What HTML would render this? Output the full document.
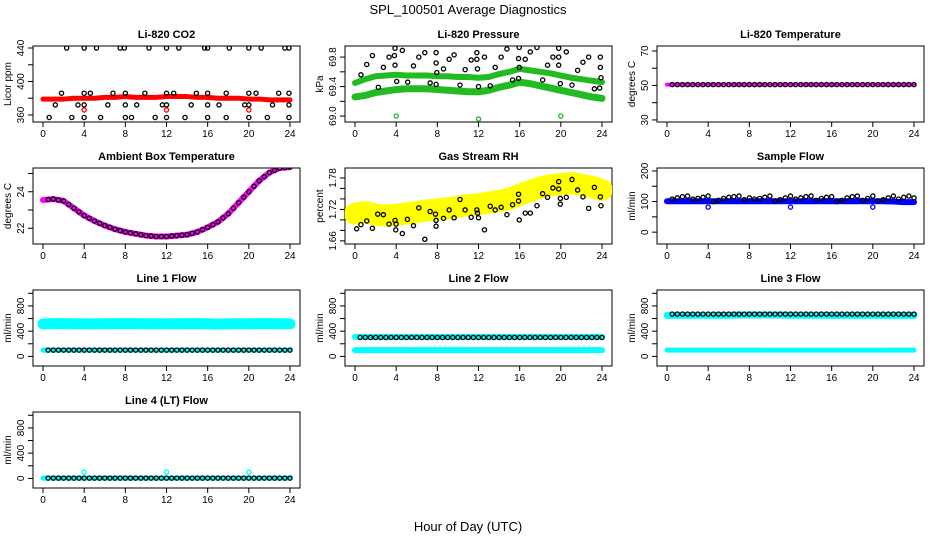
<!DOCTYPE html>
<html><head><meta charset="utf-8">
<style>
html,body{margin:0;padding:0;background:#fff;}
svg{display:block;font-family:"Liberation Sans",sans-serif;}
.t{font-size:11px;font-weight:bold;text-anchor:middle;}
.tk{font-size:10px;text-anchor:middle;}
</style></head><body>
<svg id="chart" width="936" height="540" viewBox="0 0 936 540" xmlns="http://www.w3.org/2000/svg">
<text x="468" y="14" font-size="13" text-anchor="middle">SPL_100501  Average Diagnostics</text>
<text x="468" y="531" font-size="13" text-anchor="middle">Hour of Day (UTC)</text>
<g id="panels"></g>
</svg>
<script>
const hourTicks=[0,4,8,12,16,20,24];
const hours=[0,1,2,3,4,5,6,7,8,9,10,11,12,13,14,15,16,17,18,19,20,21,22,23,24];
const halfHours=[0.5,1,1.5,2,2.5,3,3.5,4,4.5,5,5.5,6,6.5,7,7.5,8,8.5,9,9.5,10,10.5,11,11.5,12,12.5,13,13.5,14,14.5,15,15.5,16,16.5,17,17.5,18,18.5,19,19.5,20,20.5,21,21.5,22,22.5,23,23.5,24];
// CO2
const co2Red=[379,379,379,380,380,380,381,381,382,381,381,381,382,382,382,381,381,380,380,380,379,379,378,378,378];
const co2OutHours=[4,12,20];
const co2Out=[366,366,366];
const co2BlackHours=[2.3,4,5.2,7.5,7.9,10.3,12,13.2,15.7,16,18.1,20,21.2,23.5,23.9,1.8,4,4.6,6.8,8,9.9,12,12.7,14.9,16,17.8,20,20.7,22.9,23.9,1.2,3.4,4,6.3,8,9.1,11.6,12,14.4,16,17.1,19.6,20,22.3,23.9,0.6,2.8,4,5.6,8,8.6,10.9,12,13.8,16,17.8,20,21.8,23.9];
const co2Black=[440,440,440,440,440,440,440,440,440,440,440,440,440,440,440,386,386,386,386,386,386,386,386,386,386,386,386,386,386,386,372,372,372,372,372,372,372,372,372,372,372,372,372,372,372,357,357,357,357,357,357,357,357,357,357,357,357,357,357];
// Pressure
const presUpper=[69.45,69.5,69.54,69.55,69.56,69.55,69.55,69.55,69.54,69.54,69.53,69.53,69.52,69.53,69.57,69.6,69.64,69.62,69.6,69.58,69.55,69.52,69.5,69.48,69.46];
const presLower=[69.26,69.28,69.32,69.34,69.36,69.37,69.37,69.37,69.36,69.35,69.34,69.33,69.33,69.35,69.39,69.42,69.46,69.44,69.41,69.38,69.35,69.32,69.29,69.26,69.24];
const presOutHours=[4,12,20];
const presOut=[69.0,68.96,69.0];
const presBlackHours=[0.58,1.14,1.69,2.27,2.76,3.31,3.83,3.89,3.89,4.05,4.6,5.12,5.68,6.2,6.78,7.3,7.88,7.88,7.95,7.88,8.6,9.15,9.63,10.2,10.7,11.29,11.84,11.84,11.9,12.0,12.58,13.14,13.62,14.2,14.76,15.31,15.89,15.89,15.96,15.96,16.54,17.03,17.68,18.23,18.71,19.23,19.79,19.79,19.79,19.95,20.53,21.08,21.63,22.15,22.7,23.26,23.84,23.84,23.9,23.77];
const presBlack=[69.56,69.7,69.82,69.39,69.66,69.8,69.82,69.92,69.69,69.47,69.89,69.46,69.68,69.8,69.86,69.45,69.86,69.72,69.59,69.43,69.64,69.77,69.83,69.42,69.63,69.76,69.77,69.86,69.64,69.4,69.8,69.41,69.66,69.8,69.91,69.49,69.51,69.78,69.66,69.93,69.77,69.87,69.93,69.49,69.69,69.8,69.8,69.92,69.69,69.44,69.87,69.42,69.62,69.73,69.8,69.37,69.8,69.66,69.52,69.38];
// Li-820 temperature
const tempLine=[50.5,50.5,50.5,50.5,50.5,50.5,50.5,50.5,50.5,50.5,50.5,50.5,50.5,50.5,50.5,50.5,50.5,50.5,50.5,50.5,50.5,50.5,50.5,50.5,50.5];
const tempBlack=[50.5,50.5,50.5,50.5,50.5,50.5,50.5,50.5,50.5,50.5,50.5,50.5,50.5,50.5,50.5,50.5,50.5,50.5,50.5,50.5,50.5,50.5,50.5,50.5,50.5,50.5,50.5,50.5,50.5,50.5,50.5,50.5,50.5,50.5,50.5,50.5,50.5,50.5,50.5,50.5,50.5,50.5,50.5,50.5,50.5,50.5,50.5,50.5];
// Ambient
const ambient=[23.55,23.6,23.5,23.1,22.7,22.4,22.15,21.95,21.8,21.7,21.6,21.55,21.55,21.6,21.65,21.8,22.05,22.35,22.8,23.4,24.0,24.6,25.05,25.3,25.35];
// RH
const rhBand=[1.712,1.715,1.71,1.708,1.71,1.712,1.715,1.718,1.72,1.722,1.725,1.728,1.73,1.733,1.736,1.74,1.748,1.755,1.762,1.766,1.768,1.77,1.767,1.763,1.757];
const rhBlackHours=[0.16,0.58,1.14,1.69,2.21,2.76,3.31,3.89,3.96,3.99,4.6,5.09,5.68,6.2,6.78,7.3,7.82,7.88,7.88,8.6,9.15,9.63,10.2,10.7,11.29,11.84,11.9,12.0,12.58,13.14,13.62,14.2,14.76,15.31,15.89,15.89,15.96,16.54,17.03,17.68,18.23,18.71,19.23,19.79,19.79,19.95,19.95,20.53,21.08,21.63,22.15,22.7,23.26,23.84,23.9];
const rhBlack=[1.683,1.691,1.698,1.684,1.711,1.71,1.692,1.699,1.681,1.692,1.674,1.701,1.689,1.723,1.663,1.716,1.711,1.699,1.688,1.703,1.719,1.704,1.739,1.719,1.705,1.719,1.713,1.704,1.681,1.726,1.719,1.724,1.71,1.729,1.749,1.736,1.7,1.713,1.713,1.727,1.75,1.743,1.761,1.773,1.759,1.741,1.73,1.743,1.777,1.757,1.744,1.722,1.762,1.744,1.727];
// Sample flow
const sampleBand=[101,101,101,101,101,101,101,101,101,101,101,101,101,101,101,101,101,101,101,101,101,101,100,98,98];
const sampleOutHours=[4,12,20];
const sampleOut=[82,82,82];
const sampleBlack=[108,112,116,118,108,110,114,118,100,104,110,114,116,118,106,112,108,110,114,118,102,106,112,118,108,112,116,118,104,110,114,116,100,104,112,116,118,104,110,118,102,106,112,118,108,114,118,112];
// Line flows
const line1Band=[515,520,520,518,515,515,518,520,520,520,518,518,515,518,520,520,518,512,515,518,518,520,520,518,515];
const line1Low=[100,100,100,100,100,100,100,100,100,100,100,100,100,100,100,100,100,100,100,100,100,100,100,100,100];
const line1Black=[100,100,100,100,100,100,100,100,100,100,100,100,100,100,100,100,100,100,100,100,100,100,100,100,100,100,100,100,100,100,100,100,100,100,100,100,100,100,100,100,100,100,100,100,100,100,100,100];
const line2Band=[310,310,310,310,310,310,310,310,310,310,310,310,310,310,310,310,310,310,310,310,310,310,310,310,310];
const line2Low=[100,100,100,100,100,100,100,100,100,100,100,100,100,100,100,100,100,100,100,100,100,100,100,100,100];
const line2Black=[300,300,300,300,300,300,300,300,300,300,300,300,300,300,300,300,300,300,300,300,300,300,300,300,300,300,300,300,300,300,300,300,300,300,300,300,300,300,300,300,300,300,300,300,300,300,300,300];
const line3Band=[650,650,650,650,650,650,652,655,655,655,655,655,652,652,652,652,650,650,650,650,650,650,650,650,650];
const line3Low=[100,100,100,100,100,100,100,100,100,100,100,100,100,100,100,100,100,100,100,100,100,100,100,100,100];
const line3Black=[670,670,670,670,670,670,670,670,670,670,670,670,670,670,670,670,670,670,670,670,670,670,670,670,670,670,670,670,670,670,670,670,670,670,670,670,670,670,670,670,670,670,670,670,670,670,670,670];
const line4Band=[5,5,5,5,5,5,5,5,5,5,5,5,5,5,5,5,5,5,5,5,5,5,5,5,5];
const line4OutHours=[4,12,20];
const line4Out=[100,100,100];
const line4Black=[5,5,5,5,5,5,5,5,5,5,5,5,5,5,5,5,5,5,5,5,5,5,5,5,5,5,5,5,5,5,5,5,5,5,5,5,5,5,5,5,5,5,5,5,5,5,5,5];

const NS='http://www.w3.org/2000/svg';
const root=document.getElementById('panels');
function mk(tag,attrs,parent){const e=document.createElementNS(NS,tag);for(const k in attrs)e.setAttribute(k,attrs[k]);parent.appendChild(e);return e;}

function makePanel(col,row,ymin,ymax,ticks,labels,title,ylab,name){
  const left=33+312*col,right=300+312*col,top=46+122*row,bot=122+122*row;
  const g=mk('g',{},root);
  
  
  const xs=h=>43+312*col+h*(247/24);
  const ys=v=>top+(ymax-v)/(ymax-ymin)*(bot-top);
  const tt=mk('text',{x:(left+right)/2,y:top-8,class:'t'},g);tt.textContent=title;
  
  
  const box=mk('rect',{x:left,y:top,width:right-left,height:bot-top,fill:'none',stroke:'#000','stroke-width':1},g);
  
  
  const xa=mk('g',{},g);
  
  
  mk('line',{x1:xs(0),x2:xs(24),y1:bot,y2:bot,stroke:'#000'},xa);
  hourTicks.forEach(h=>{mk('line',{x1:xs(h),x2:xs(h),y1:bot,y2:bot+5,stroke:'#000'},xa);
    const t=mk('text',{x:xs(h),y:bot+15,class:'tk'},xa);t.textContent=h;});
  const ya=mk('g',{},g);
  
  
  mk('line',{x1:left,x2:left,y1:ys(ticks[0]),y2:ys(ticks[ticks.length-1]),stroke:'#000'},ya);
  ticks.forEach(v=>mk('line',{x1:left,x2:left-5,y1:ys(v),y2:ys(v),stroke:'#000'},ya));
  labels.forEach(v=>{const tx=left-9,ty=ys(v);const t=mk('text',{x:tx,y:ty,class:'tk',transform:`rotate(-90 ${tx} ${ty})`},ya);t.textContent=v;});
  const yl=mk('text',{x:left-22,y:(top+bot)/2,'font-size':10,'text-anchor':'middle',transform:`rotate(-90 ${left-22} ${(top+bot)/2})`},g);
  yl.textContent=ylab;
  
  
  const clipId='c'+col+row;
  const cp=mk('clipPath',{id:clipId},g);mk('rect',{x:left,y:top,width:right-left,height:bot-top},cp);
  const d=mk('g',{'clip-path':`url(#${clipId})`},g);
  
  
  return {g:d,xs,ys};
}
function band(p,xArr,yArr,color,w,name){
  const pts=xArr.map((h,i)=>p.xs(h)+','+p.ys(yArr[i])).join(' ');
  const pl=mk('polyline',{points:pts,fill:'none',stroke:color,'stroke-width':w,'stroke-linejoin':'round','stroke-linecap':'round'},p.g);
  
  
}
function pts(p,xArr,yArr,color,name){
  xArr.forEach((h,i)=>{const c=mk('circle',{cx:p.xs(h),cy:p.ys(yArr[i]),r:2.1,fill:'none',stroke:color,'stroke-width':1.3},p.g);
    
    });
}

let p;
p=makePanel(0,0,351.6,442.4,[360,380,400,420,440],[360,400,440],'Li-820 CO2','Licor ppm','co2');
band(p,hours,co2Red,'#ff0000',5,'co2-mean-band');
pts(p,co2OutHours,co2Out,'#ff0000','co2-outlier-point');
pts(p,co2BlackHours,co2Black,'#000','co2-average-point');

p=makePanel(1,0,68.92,69.95,[69.0,69.2,69.4,69.6,69.8],['69.0','69.4','69.8'],'Li-820 Pressure','kPa','pressure');
band(p,hours,presUpper,'#22bb22',6,'pressure-upper-band');
band(p,hours,presLower,'#22bb22',7,'pressure-lower-band');
pts(p,presOutHours,presOut,'#22bb22','pressure-outlier-point');
pts(p,presBlackHours,presBlack,'#000','pressure-average-point');

p=makePanel(2,0,28.8,72.9,[30,40,50,60,70],[30,50,70],'Li-820 Temperature','degrees C','li820-temp');
band(p,hours,tempLine,'#ff00ff',4,'li820-temp-band');
pts(p,halfHours,tempBlack,'#000','li820-temp-average-point');

p=makePanel(0,1,21.14,25.3,[22,23,24,25],[22,24],'Ambient Box Temperature','degrees C','ambient');
band(p,hours,ambient,'#ff00ff',6,'ambient-band');
pts(p,hours.slice(1),ambient.slice(1),'#000','ambient-average-point');
pts(p,halfHours.filter(h=>h%1),halfHours.filter(h=>h%1).map(h=>(ambient[Math.floor(h)]+ambient[Math.ceil(h)])/2),'#000','ambient-average-point');

p=makePanel(1,1,1.654,1.799,[1.66,1.68,1.70,1.72,1.74,1.76,1.78],['1.66','1.72','1.78'],'Gas Stream RH','percent','rh');
band(p,hours,rhBand,'#ffff00',22,'rh-band');
pts(p,rhBlackHours,rhBlack,'#000','rh-average-point');

p=makePanel(2,1,-38.7,209.7,[0,50,100,150,200],[0,100,200],'Sample Flow','ml/min','sample-flow');
band(p,hours,sampleBand,'#0000ff',6,'sample-flow-band');
pts(p,sampleOutHours,sampleOut,'#0000ff','sample-flow-outlier-point');
pts(p,halfHours,sampleBlack,'#000','sample-flow-average-point');

const flowTicks=[0,200,400,600,800,1000],flowLabels=[0,400,800];
p=makePanel(0,2,-152,1052,flowTicks,flowLabels,'Line 1 Flow','ml/min','line1-flow');
band(p,hours,line1Band,'#00ffff',11,'line1-flow-band');
band(p,hours,line1Low,'#00ffff',5,'line1-flow-low-band');
pts(p,halfHours,line1Black,'#000','line1-flow-average-point');

p=makePanel(1,2,-152,1052,flowTicks,flowLabels,'Line 2 Flow','ml/min','line2-flow');
band(p,hours,line2Band,'#00ffff',6,'line2-flow-band');
band(p,hours,line2Low,'#00ffff',6,'line2-flow-low-band');
pts(p,halfHours,line2Black,'#000','line2-flow-average-point');

p=makePanel(2,2,-152,1052,flowTicks,flowLabels,'Line 3 Flow','ml/min','line3-flow');
band(p,hours,line3Band,'#00ffff',7,'line3-flow-band');
band(p,hours,line3Low,'#00ffff',5,'line3-flow-low-band');
pts(p,halfHours,line3Black,'#000','line3-flow-average-point');

p=makePanel(0,3,-152,1052,flowTicks,flowLabels,'Line 4 (LT) Flow','ml/min','line4-flow');
band(p,hours,line4Band,'#00ffff',5,'line4-flow-band');
pts(p,line4OutHours,line4Out,'#00ffff','line4-flow-outlier-point');
pts(p,halfHours,line4Black,'#000','line4-flow-average-point');
</script>
</body></html>
